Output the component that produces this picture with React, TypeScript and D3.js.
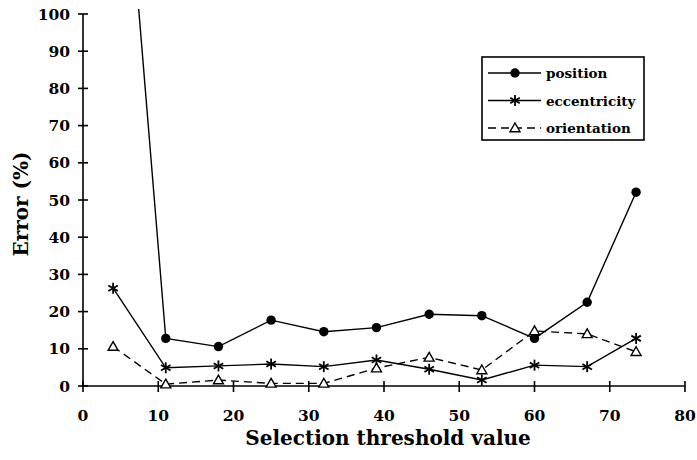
import React from 'react';
import * as d3 from 'd3';

// values
const thresholds = [4, 11, 18, 25, 32, 39, 46, 53, 60, 67, 73.5];
const position = [185, 12.8, 10.6, 17.7, 14.6, 15.7, 19.3, 18.9, 12.8, 22.5, 52.1];
const eccentricity = [26.3, 4.9, 5.4, 5.9, 5.2, 7.0, 4.5, 1.6, 5.6, 5.2, 12.8];
const orientation = [10.6, 0.5, 1.6, 0.7, 0.7, 4.8, 7.7, 4.3, 14.8, 14.0, 9.2];

const xTicks = [0, 10, 20, 30, 40, 50, 60, 70, 80];
const yTicks = [0, 10, 20, 30, 40, 50, 60, 70, 80, 90, 100];

const legendItems = ['position', 'eccentricity', 'orientation'];

const W = 697;
const H = 460;
const font = '"DejaVu Serif", serif';

const Circle = ({ cx, cy }) => <circle cx={cx} cy={cy} r={4.7} fill="#000" />;

const Star = ({ cx, cy }) => {
  const r = 5.5;
  const a = Math.PI / 3;
  return (
    <g stroke="#000" strokeWidth={1.8}>
      <line x1={cx} y1={cy - r} x2={cx} y2={cy + r} />
      <line x1={cx - r * Math.sin(a)} y1={cy - r * Math.cos(a)} x2={cx + r * Math.sin(a)} y2={cy + r * Math.cos(a)} />
      <line x1={cx - r * Math.sin(a)} y1={cy + r * Math.cos(a)} x2={cx + r * Math.sin(a)} y2={cy - r * Math.cos(a)} />
    </g>
  );
};

const Tri = ({ cx, cy }) => {
  const s = 5;
  return (
    <path
      d={`M${cx},${cy - s}L${cx + s},${cy + s * 0.75}L${cx - s},${cy + s * 0.75}Z`}
      fill="#fff"
      stroke="#000"
      strokeWidth={1.4}
    />
  );
};

export default function App() {
  const x = d3.scaleLinear().domain([0, 80]).range([83, 685]);
  const y = d3.scaleLinear().domain([0, 100]).range([386, 14]);

  const line = d3.line<number>()
    .x((_, i) => x(thresholds[i]))
    .y(d => y(d));

  const markers = [Circle, Star, Tri];

  return (
    <svg width={W} height={H} style={{ position: 'absolute', left: 0, top: 0, background: '#fff' }} fontFamily={font}>
      <defs>
        <clipPath id="plot">
          <rect x={x(0)} y={9} width={W - x(0)} height={y(0) - 9} />
        </clipPath>
      </defs>

      {/* axes */}
      <g stroke="#000" strokeWidth={1.6}>
        <line x1={x(0)} y1={y(0)} x2={x(80)} y2={y(0)} />
        <line x1={x(0)} y1={y(0)} x2={x(0)} y2={y(100)} />
        {xTicks.map(t => (
          <line key={'xt' + t} x1={x(t)} x2={x(t)} y1={y(0) - 5} y2={y(0) + 6} />
        ))}
        {yTicks.map(t => (
          <line key={'yt' + t} x1={x(0) - 5} x2={x(0) + 5} y1={y(t)} y2={y(t)} />
        ))}
      </g>
      <g fontSize={15.5} fontWeight="bold" fill="#000">
        {xTicks.map(t => (
          <text key={'xl' + t} x={x(t)} y={421} textAnchor="middle">{t}</text>
        ))}
        {yTicks.map(t => (
          <text key={'yl' + t} x={70} y={y(t) + 5.5} textAnchor="end">{t}</text>
        ))}
      </g>

      <text x={388} y={445} textAnchor="middle" fontSize={20} fontWeight="bold">Selection threshold value</text>
      <text transform="translate(28,204) rotate(-90)" textAnchor="middle" fontSize={20} fontWeight="bold">Error (%)</text>

      {/* series */}
      <g fill="none" stroke="#000" strokeWidth={1.4}>
        <path d={line(position)} clipPath="url(#plot)" />
        <path d={line(eccentricity)} />
        <path d={line(orientation)} strokeDasharray="8,5" />
      </g>
      <g clipPath="url(#plot)">
        {position.map((v, i) => <Circle key={'p' + i} cx={x(thresholds[i])} cy={y(v)} />)}
      </g>
      {eccentricity.map((v, i) => <Star key={'e' + i} cx={x(thresholds[i])} cy={y(v)} />)}
      {orientation.map((v, i) => <Tri key={'o' + i} cx={x(thresholds[i])} cy={y(v)} />)}

      {/* legend */}
      <rect x={482} y={57} width={162} height={83} fill="#fff" stroke="#000" strokeWidth={1.6} />
      {legendItems.map((name, i) => {
        const ly = 73 + i * 27.5;
        const M = markers[i];
        return (
          <g key={name}>
            <line x1={488} x2={541} y1={ly} y2={ly} stroke="#000" strokeWidth={1.4} strokeDasharray={i === 2 ? '8,5' : null} />
            <M cx={515} cy={ly} />
            <text x={546} y={ly + 5} fontSize={13.5} fontWeight="bold">{name}</text>
          </g>
        );
      })}
    </svg>
  );
}
